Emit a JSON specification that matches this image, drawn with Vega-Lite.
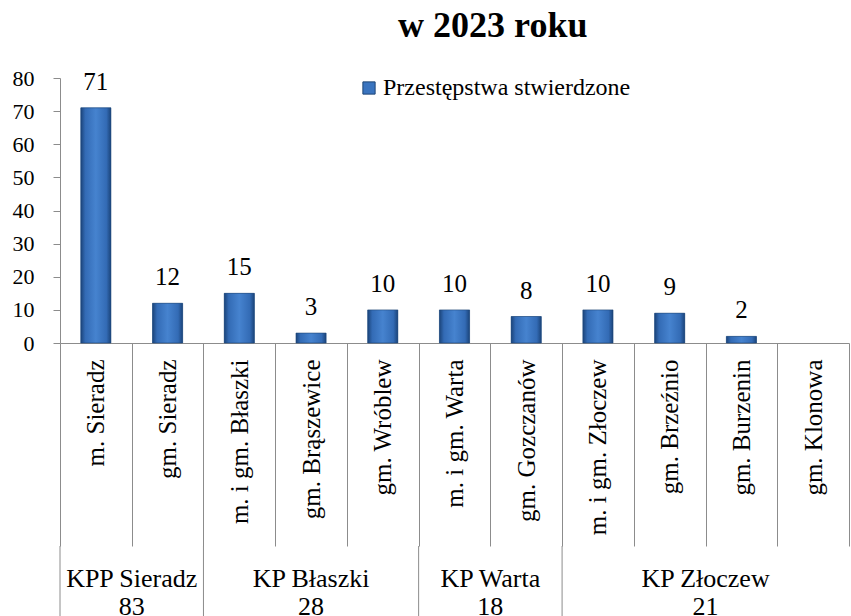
{
  "$schema": "https://vega.github.io/schema/vega-lite/v6.json",
  "padding": {"left": 12, "top": 8, "right": 0, "bottom": 0},
  "autosize": {"type": "pad"},
  "bounds": "flush",
  "spacing": 203,
  "title": {"text": "w 2023 roku", "font": "Liberation Serif", "fontSize": 36, "fontWeight": "bold", "color": "#000", "anchor": "middle", "dx": 62, "offset": 22},
  "datasets": {
    "bars": [
      {"gmina": "m. Sieradz", "value": 71, "series": "Przestępstwa stwierdzone"},
      {"gmina": "gm. Sieradz", "value": 12, "series": "Przestępstwa stwierdzone"},
      {"gmina": "m. i gm. Błaszki", "value": 15, "series": "Przestępstwa stwierdzone"},
      {"gmina": "gm. Brąszewice", "value": 3, "series": "Przestępstwa stwierdzone"},
      {"gmina": "gm. Wróblew", "value": 10, "series": "Przestępstwa stwierdzone"},
      {"gmina": "m. i gm. Warta", "value": 10, "series": "Przestępstwa stwierdzone"},
      {"gmina": "gm. Gozczanów", "value": 8, "series": "Przestępstwa stwierdzone"},
      {"gmina": "m. i gm. Złoczew", "value": 10, "series": "Przestępstwa stwierdzone"},
      {"gmina": "gm. Brzeźnio", "value": 9, "series": "Przestępstwa stwierdzone"},
      {"gmina": "gm. Burzenin", "value": 2, "series": "Przestępstwa stwierdzone"},
      {"gmina": "gm. Klonowa", "value": 0, "series": "Przestępstwa stwierdzone"}
    ],
    "groups": [
      {"label": "KPP Sieradz\n83", "from": 0, "to": 2},
      {"label": "KP Błaszki\n28", "from": 2, "to": 5},
      {"label": "KP Warta\n18", "from": 5, "to": 7},
      {"label": "KP Złoczew\n21", "from": 7, "to": 11}
    ]
  },
  "vconcat": [
    {
      "width": 789,
      "height": 265,
      "data": {"name": "bars"},
      "transform": [{"filter": "datum.value > 0"}],
      "encoding": {
        "x": {"field": "gmina", "type": "nominal", "sort": null,
          "scale": {"domain": ["m. Sieradz", "gm. Sieradz", "m. i gm. Błaszki", "gm. Brąszewice", "gm. Wróblew", "m. i gm. Warta", "gm. Gozczanów", "m. i gm. Złoczew", "gm. Brzeźnio", "gm. Burzenin", "gm. Klonowa"], "paddingInner": 0, "paddingOuter": 0},
          "axis": {"title": null, "labelAngle": -90, "tickBand": "extent", "tickSize": 203, "labelPadding": -187,
            "domainColor": "#8c8c8c", "tickColor": "#8c8c8c", "labelFont": "Liberation Serif", "labelFontSize": 25,
            "labelColor": "#000", "labelOverlap": false, "labelLimit": 0, "labelBound": false}},
        "y": {"field": "value", "type": "quantitative", "scale": {"domain": [0, 80]},
          "axis": {"title": null, "values": [0, 10, 20, 30, 40, 50, 60, 70, 80], "grid": false, "tickSize": 7, "labelPadding": 19,
            "domainColor": "#8c8c8c", "tickColor": "#8c8c8c", "labelFont": "Liberation Serif", "labelFontSize": 22, "labelColor": "#000"}}
      },
      "layer": [
        {
          "mark": {"type": "bar", "width": {"band": 0.42}},
          "encoding": {
            "color": {"field": "series", "type": "nominal",
              "scale": {"range": ["#3a74bf"]},
              "legend": {"title": null, "orient": "none", "legendX": 297, "legendY": -2, "labelFont": "Liberation Serif", "labelFontSize": 24,
                "labelColor": "#000", "symbolType": "square", "symbolSize": 150, "symbolStrokeColor": "#1d4576", "symbolStrokeWidth": 1, "labelLimit": 0, "labelOffset": 2}}
          }
        },
        {
          "mark": {"type": "bar", "width": {"band": 0.42}, "stroke": "#1d4576", "strokeWidth": 0.6,
            "color": {"gradient": "linear", "x1": 0, "y1": 0, "x2": 1, "y2": 0,
              "stops": [{"offset": 0, "color": "#1b447a"}, {"offset": 0.15, "color": "#336bb5"}, {"offset": 0.5, "color": "#4683cf"}, {"offset": 0.85, "color": "#336bb5"}, {"offset": 1, "color": "#1b447a"}]}},
          "encoding": {}
        },
        {
          "mark": {"type": "text", "dy": -18, "baseline": "alphabetic", "font": "Liberation Serif", "fontSize": 25, "color": "#000"},
          "encoding": {
            "text": {"field": "value", "type": "quantitative"}
          }
        }
      ]
    },
    {
      "width": 789,
      "height": 71,
      "data": {"name": "groups"},
      "layer": [
        {
          "mark": {"type": "rule", "color": "#8c8c8c"},
          "encoding": {"x": {"field": "from", "type": "quantitative", "scale": {"domain": [0, 11], "nice": false, "zero": false}, "axis": null}}
        },
        {
          "transform": [{"fold": ["from", "to"], "as": ["k", "edge"]}],
          "mark": {"type": "text", "font": "Liberation Serif", "fontSize": 26, "lineBreak": "\n", "lineHeight": 28, "baseline": "middle", "dy": -3, "clip": true, "color": "#000"},
          "encoding": {
            "x": {"aggregate": "mean", "field": "edge", "type": "quantitative", "scale": {"domain": [0, 11], "nice": false, "zero": false}},
            "text": {"field": "label", "type": "nominal"}
          }
        }
      ]
    }
  ],
  "config": {"view": {"stroke": null}, "font": "Liberation Serif"}
}
